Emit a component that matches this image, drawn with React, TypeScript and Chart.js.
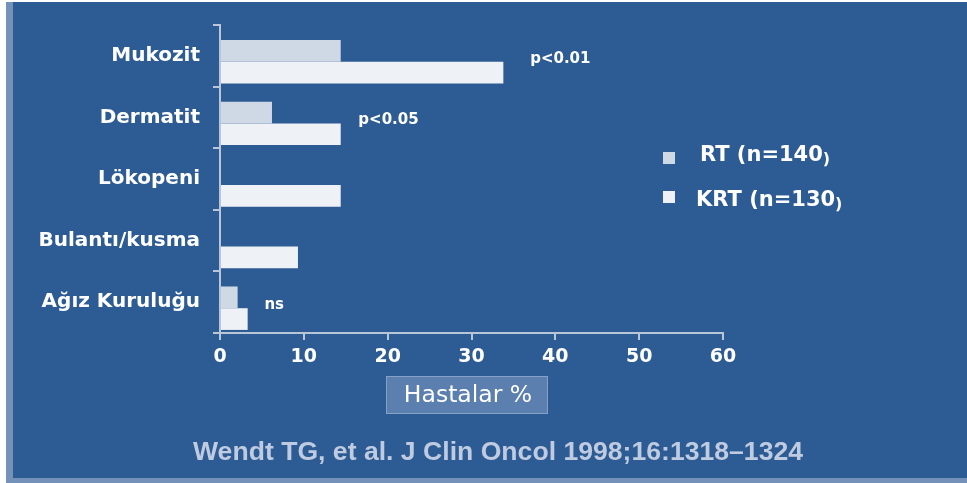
import React, { useEffect, useRef } from "react";
import { Chart, registerables } from "chart.js";

Chart.register(...registerables);

// ---- data ----
const categories = ["Mukozit", "Dermatit", "Lökopeni", "Bulantı/kusma", "Ağız Kuruluğu"];
const rtValues = [14.4, 6.2, 0, 0, 2.1];
const krtValues = [33.8, 14.4, 14.4, 9.3, 3.3];
const xTicks = [0, 10, 20, 30, 40, 50, 60];
const seriesNames = ["RT (n=140", "KRT (n=130"];
const pLabels = ["p<0.01", "p<0.05", "", "", "ns"];
const pLabelAt = [37, 16.5, 0, 0, 5.3];
const axisTitle = "Hastalar %";
const citation = "Wendt TG, et al. J Clin Oncol 1998;16:1318–1324";

// ---- styles ----
const BLUE = "#2d5b93";
const STRIP = "#7391b9";
const AXIS = "#b9c6d8";
const RT_COLOR = "#cfd9e5";
const KRT_COLOR = "#eef1f6";
const BOLD = "DejaVu Sans";

const backgroundPlugin = {
  id: "bg",
  beforeDraw(chart: any) {
    const ctx = chart.ctx;
    const w = chart.width;
    const h = chart.height;
    ctx.save();
    ctx.fillStyle = "#ffffff";
    ctx.fillRect(0, 0, w, h);
    ctx.fillStyle = STRIP;
    ctx.fillRect(6, 2, w - 6, h - 2);
    ctx.fillStyle = BLUE;
    ctx.fillRect(13, 2, w - 13, 476);
    ctx.restore();
  },
};

const shiftPlugin = {
  id: "shiftBars",
  afterLayout(chart: any) {
    const s = chart.scales.yb;
    if (!s) return;
    s.top += 6;
    s.bottom += 6;
    s.configure();
  },
};

const overlayPlugin = {
  id: "overlay",
  afterDraw(chart: any) {
    const ctx = chart.ctx;
    const xs = chart.scales.x;
    const yb = chart.scales.yb;
    ctx.save();
    // p-value annotations
    ctx.fillStyle = "#ffffff";
    ctx.font = `bold 15px "${BOLD}"`;
    ctx.textAlign = "left";
    ctx.textBaseline = "middle";
    pLabels.forEach((t, i) => {
      if (!t) return;
      ctx.fillText(t, xs.getPixelForValue(pLabelAt[i]), yb.getPixelForValue(i) - 3);
    });

    // legend
    const legendRows = [
      { color: RT_COLOR, sq: 152, ty: 156, tx: 700 },
      { color: KRT_COLOR, sq: 191, ty: 201, tx: 696 },
    ];
    legendRows.forEach((r, i) => {
      ctx.fillStyle = r.color;
      ctx.fillRect(663, r.sq, 12, 12);
      ctx.fillStyle = "#ffffff";
      ctx.font = `bold 21px "${BOLD}"`;
      ctx.textBaseline = "middle";
      ctx.textAlign = "left";
      ctx.fillText(seriesNames[i], r.tx, r.ty);
      const wMain = ctx.measureText(seriesNames[i]).width;
      ctx.font = `bold 16px "${BOLD}"`;
      ctx.textBaseline = "alphabetic";
      ctx.fillText(")", r.tx + wMain, r.ty + 8);
    });

    // axis title box
    const bx = 386, by = 376, bw = 162, bh = 38;
    ctx.fillStyle = "#5b7faf";
    ctx.fillRect(bx, by, bw, bh);
    ctx.strokeStyle = "#86a1c6";
    ctx.lineWidth = 1;
    ctx.strokeRect(bx + 0.5, by + 0.5, bw - 1, bh - 1);
    ctx.fillStyle = "#ffffff";
    ctx.font = `23.5px "DejaVu Sans"`;
    ctx.textAlign = "center";
    ctx.textBaseline = "middle";
    ctx.fillText(axisTitle, bx + bw / 2 + 1, by + bh / 2 + 1);

    // citation
    ctx.fillStyle = "#bfcbe0";
    ctx.font = `bold 25px "Liberation Sans"`;
    ctx.textAlign = "left";
    ctx.textBaseline = "middle";
    const mw = ctx.measureText(citation).width;
    const sx = 610 / mw;
    ctx.translate(193, 453);
    ctx.scale(sx, 1);
    ctx.fillText(citation, 0, 0);
    ctx.restore();
  },
};

export default function App() {
  const ref = useRef<HTMLCanvasElement | null>(null);
  useEffect(() => {
    if (!ref.current) return;
    const chart = new Chart(ref.current, {
      type: "bar",
      data: {
        labels: categories,
        datasets: [
          {
            label: "RT",
            data: rtValues,
            backgroundColor: RT_COLOR,
            borderWidth: 0,
            yAxisID: "yb",
            xAxisID: "x",
            categoryPercentage: 0.705,
            barPercentage: 1,
          },
          {
            label: "KRT",
            data: krtValues,
            backgroundColor: KRT_COLOR,
            borderWidth: 0,
            yAxisID: "yb",
            xAxisID: "x",
            categoryPercentage: 0.705,
            barPercentage: 1,
          },
        ],
      },
      options: {
        indexAxis: "y",
        animation: false,
        responsive: false,
        maintainAspectRatio: false,
        layout: { padding: { top: 24, right: 244, left: 0, bottom: 0 } },
        plugins: {
          legend: { display: false },
          tooltip: { enabled: false },
          title: { display: false },
        },
        scales: {
          x: {
            type: "linear",
            position: "bottom",
            min: 0,
            max: 60,
            afterBuildTicks: (s: any) => {
              s.ticks = xTicks.map((v) => ({ value: v }));
            },
            ticks: {
              color: "#ffffff",
              font: { family: BOLD, weight: "bold", size: 19 },
              padding: 6,
            },
            grid: { drawOnChartArea: false, drawTicks: true, tickLength: 7, color: AXIS, lineWidth: 2 },
            border: { display: true, color: AXIS, width: 2 },
            afterFit: (s: any) => {
              s.height = 150;
            },
          },
          y: {
            type: "category",
            position: "left",
            offset: true,
            grid: { offset: true, drawOnChartArea: false, drawTicks: true, tickLength: 7, color: AXIS, lineWidth: 2 },
            border: { display: true, color: AXIS, width: 2 },
            ticks: {
              color: "#ffffff",
              font: { family: BOLD, weight: "bold", size: 20 },
              padding: 13,
            },
            afterFit: (s: any) => {
              s.width = 220;
            },
          },
          yb: {
            type: "category",
            position: "left",
            display: false,
            offset: true,
            grid: { offset: true },
          },
        },
      } as any,
      plugins: [backgroundPlugin, shiftPlugin, overlayPlugin],
    });
    return () => chart.destroy();
  }, []);

  return (
    <div style={{ position: "absolute", left: 0, top: 0, width: 967, height: 483 }}>
      <canvas ref={ref} width={967} height={483} style={{ display: "block", width: 967, height: 483 }} />
    </div>
  );
}
